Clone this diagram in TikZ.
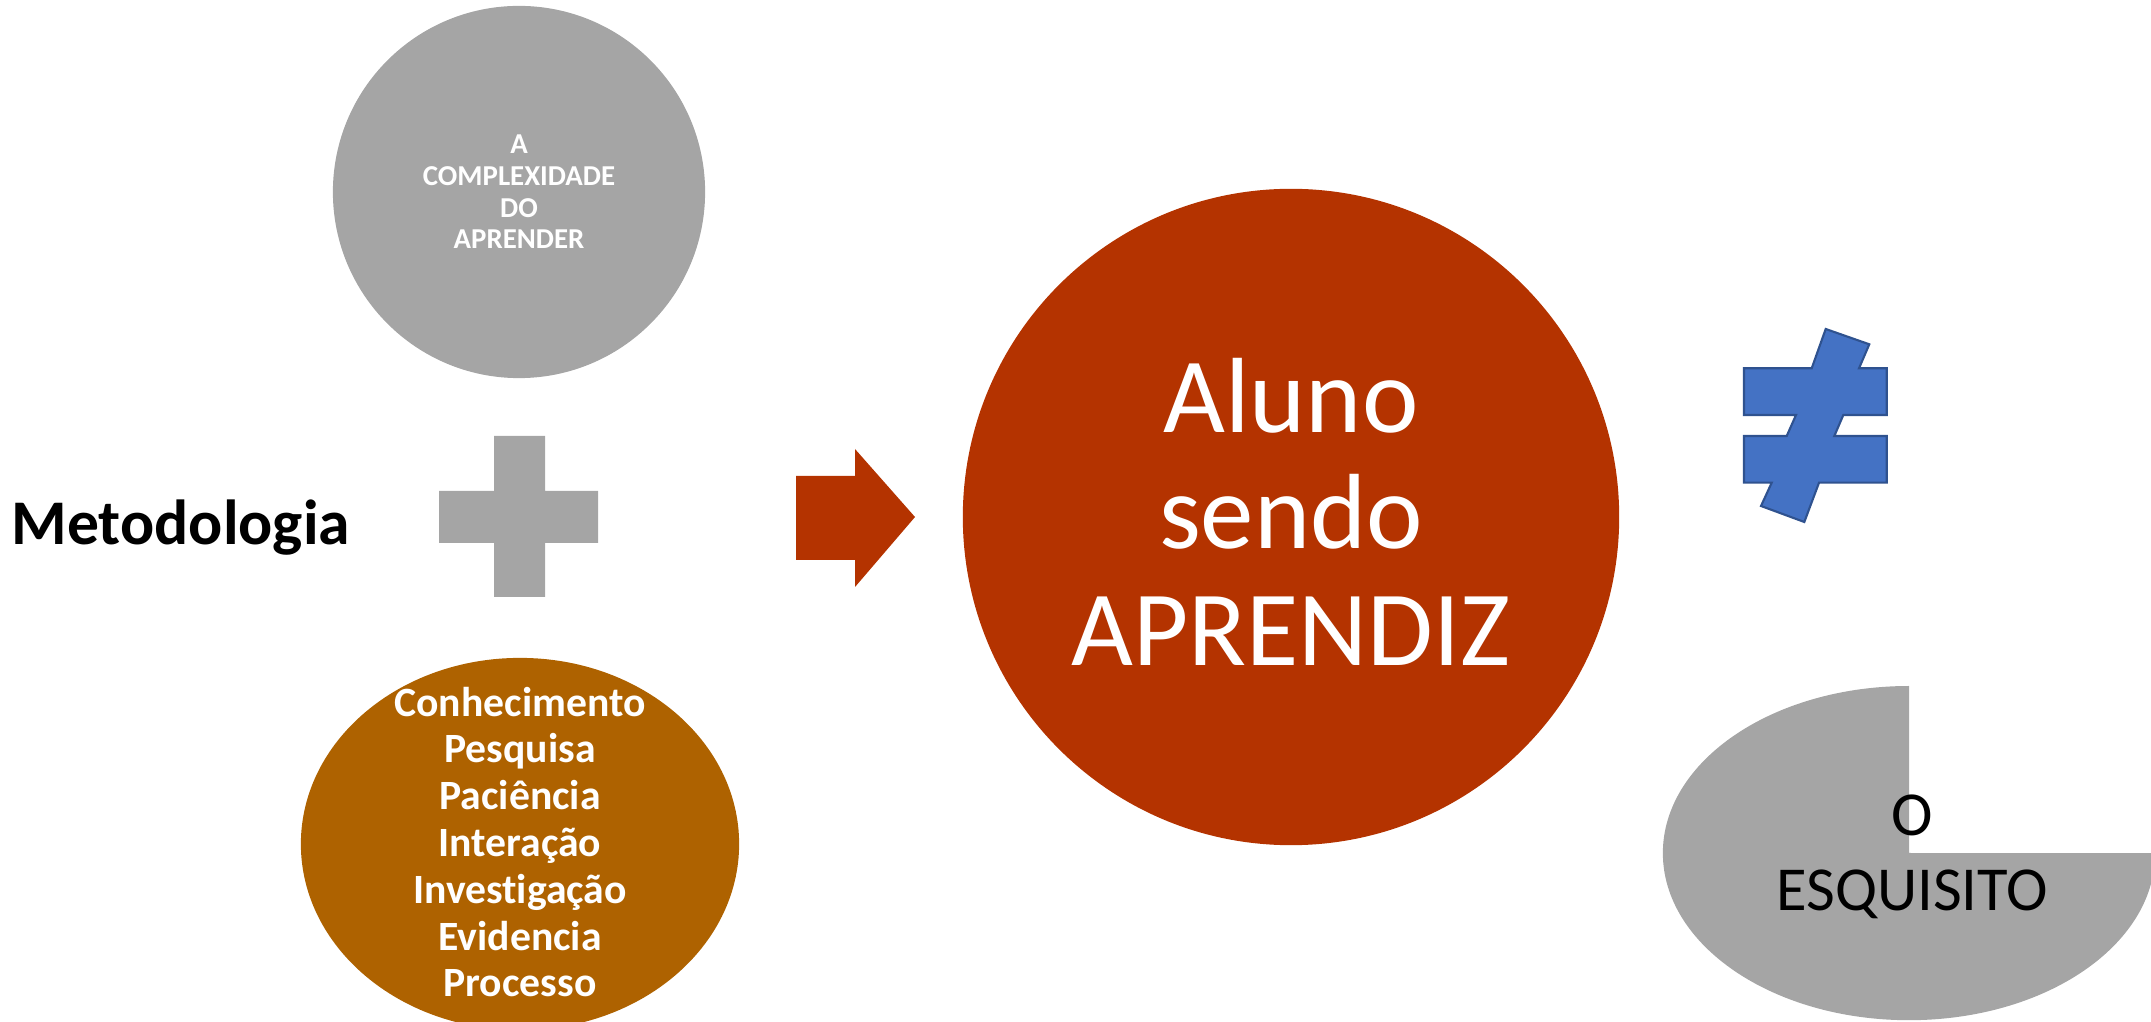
\documentclass[tikz,border=0pt]{standalone}
\usepackage{fontspec}
\setmainfont{Carlito}[Ligatures=NoCommon]
\usetikzlibrary{shapes.geometric}
\definecolor{cinza}{HTML}{A5A5A5}
\definecolor{marrom}{HTML}{AE6200}
\definecolor{vermelho}{HTML}{B43300}
\definecolor{azul}{HTML}{4472C4}
\definecolor{azulborda}{HTML}{2F528F}

\begin{document}
\begin{tikzpicture}[x=0.01cm, y=-0.01cm,
    forma/.style={inner sep=0pt, outer sep=0pt},
    texto/.style={align=center, text=white, inner sep=0pt}]
        \useasboundingbox (0,0) rectangle (2151,1022);
        \clip (0,0) rectangle (2151,1022);

        \node[forma, circle, fill=cinza, minimum size=3.72cm] (complexidade) at (519,192) {};
        \node[texto, font=\bfseries\fontsize{8.2}{9}\selectfont] (complexidadetxt) at (519,192) {A\\COMPLEXIDADE\\DO\\APRENDER};

        \node[forma, ellipse, fill=marrom, minimum width=4.38cm, minimum height=3.72cm] (valores) at (520,844) {};
        \node[texto, font=\bfseries\fontsize{11.85}{13.3}\selectfont] (valorestxt) at (520,842) {Conhecimento\\Pesquisa\\Paciência\\Interação\\Investigação\\Evidencia\\Processo};

        \node[anchor=base west, inner sep=0pt, font=\bfseries\fontsize{18.1}{21}\selectfont] (metodologia) at (11,545) {Metodologia};

        \fill[cinza] (494,436) -- (545,436) -- (545,491) -- (598,491) -- (598,543) -- (545,543)
            -- (545,597) -- (494,597) -- (494,543) -- (439,543) -- (439,491) -- (494,491) -- cycle;

        \fill[vermelho] (796,476) -- (855,476) -- (855,449) -- (915,517) -- (855,587) -- (855,560) -- (796,560) -- cycle;

        \node[forma, circle, fill=vermelho, minimum size=6.56cm] (aluno) at (1291,517) {};
        \node[texto, font=\fontsize{30.4}{33.1}\selectfont] (alunotxt) at (1291,511.5) {Aluno\\sendo\\APRENDIZ};

        \filldraw[fill=azul, draw=azulborda, line width=0.6pt, line join=miter]
            (1825.7,329) -- (1869.3,344.3) -- (1859,368.3) -- (1886.7,368.3) -- (1886.7,415)
            -- (1843.3,415) -- (1834.3,436) -- (1886.7,436) -- (1886.7,482.7) -- (1819,482.7)
            -- (1804.3,522) -- (1761,506) -- (1771.7,482.7) -- (1744,482.7) -- (1744,436)
            -- (1786.7,436) -- (1796,415) -- (1744,415) -- (1744,368.3) -- (1811.7,368.3) -- cycle;

        \fill[cinza] (1909,853) -- (1909,686) arc[start angle=90, end angle=360, x radius=2.46cm, y radius=1.67cm] -- cycle;
        \node[align=center, inner sep=0pt, font=\fontsize{17.8}{21.3}\selectfont] (esquisito) at (1912,857) {O\\ESQUISITO};
    \end{tikzpicture}
\end{document}
